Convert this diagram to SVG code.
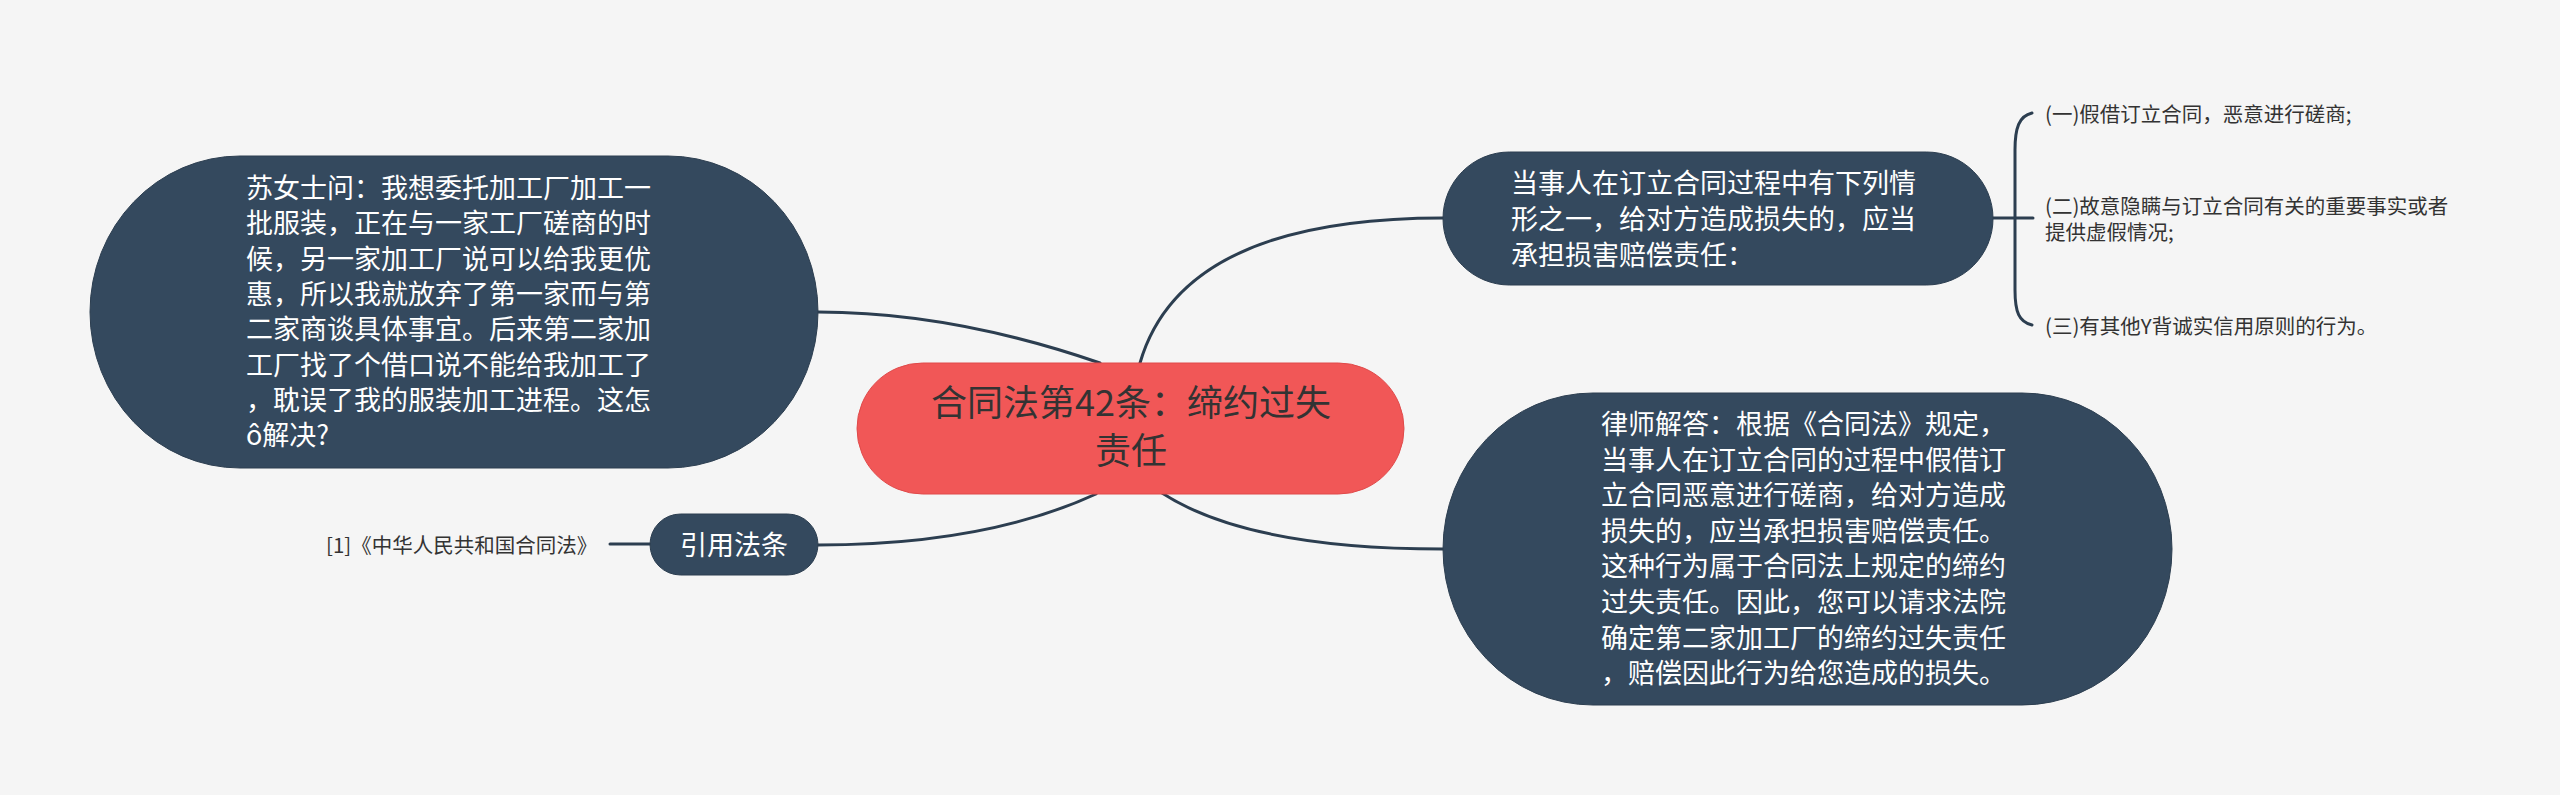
<svg xmlns="http://www.w3.org/2000/svg" width="2560" height="795" viewBox="0 0 2560 795">
<style>
.bg{fill:#f5f5f5}
.dark{fill:#34495e;stroke:#2c3e50;stroke-width:1}
.root{fill:#f15757;stroke:#e04a4a;stroke-width:1}
.conn{fill:none;stroke:#2c3e50;stroke-width:3;stroke-linecap:round}
.t{font-family:"Noto Sans CJK SC","Noto Sans",sans-serif}
.w{fill:#ffffff;font-size:27px}
.rt{fill:#333333;font-size:36px;text-anchor:middle}
.s{fill:#333333;font-size:20.5px}
</style>
<rect class="bg" x="0" y="0" width="2560" height="795"/>
<g id="connectors">
<path class="conn" d="M818,312 Q952,312 1100,363"/>
<path class="conn" d="M818,545 Q985,545 1096,494"/>
<path class="conn" d="M1443,218 Q1182,218 1140,363"/>
<path class="conn" d="M1443,549 Q1248,549 1162,493"/>
<path class="conn" d="M610,544 L650,544"/>
<path class="conn" d="M1993,218 L2033,218"/>
<path class="conn" d="M2032,113 C2019,116 2015,128 2015,150 L2015,290 C2015,312 2019,322 2032,325"/>
</g>
<g id="root">
<rect class="root" x="857" y="363" width="547" height="131" rx="65.5" ry="65.5"/>
<text class="t rt" x="1131" y="416">合同法第42条：缔约过失</text>
<text class="t rt" x="1131" y="464">责任</text>
</g>
<g id="question">
<rect class="dark" x="90" y="156" width="728" height="312" rx="150" ry="156"/>
<text class="t w" x="246" y="198">苏女士问：我想委托加工厂加工一</text>
<text class="t w" x="246" y="233.3">批服装，正在与一家工厂磋商的时</text>
<text class="t w" x="246" y="268.6">候，另一家加工厂说可以给我更优</text>
<text class="t w" x="246" y="303.9">惠，所以我就放弃了第一家而与第</text>
<text class="t w" x="246" y="339.2">二家商谈具体事宜。后来第二家加</text>
<text class="t w" x="246" y="374.5">工厂找了个借口说不能给我加工了</text>
<text class="t w" x="246" y="409.8">，耽误了我的服装加工进程。这怎</text>
<text class="t w" x="246" y="445.1">ô解决?</text>
</g>
<g id="cite">
<rect class="dark" x="650" y="514" width="168" height="61" rx="30.5" ry="30.5"/>
<text class="t w" x="734" y="555" text-anchor="middle">引用法条</text>
</g>
<g id="cite-ref">
<text class="t s" x="326" y="553">[1]《中华人民共和国合同法》</text>
</g>
<g id="rule">
<rect class="dark" x="1443" y="152" width="550" height="133" rx="66.5" ry="66.5"/>
<text class="t w" x="1511" y="193">当事人在订立合同过程中有下列情</text>
<text class="t w" x="1511" y="229">形之一，给对方造成损失的，应当</text>
<text class="t w" x="1511" y="265">承担损害赔偿责任：</text>
</g>
<g id="item1">
<text class="t s" x="2045" y="122">(一)假借订立合同，恶意进行磋商;</text>
</g>
<g id="item2">
<text class="t s" x="2045" y="214">(二)故意隐瞒与订立合同有关的重要事实或者</text>
<text class="t s" x="2045" y="240">提供虚假情况;</text>
</g>
<g id="item3">
<text class="t s" x="2045" y="334">(三)有其他Y背诚实信用原则的行为。</text>
</g>
<g id="answer">
<rect class="dark" x="1443" y="393" width="729" height="312" rx="150" ry="156"/>
<text class="t w" x="1601" y="434">律师解答：根据《合同法》规定，</text>
<text class="t w" x="1601" y="469.6">当事人在订立合同的过程中假借订</text>
<text class="t w" x="1601" y="505.2">立合同恶意进行磋商，给对方造成</text>
<text class="t w" x="1601" y="540.8">损失的，应当承担损害赔偿责任。</text>
<text class="t w" x="1601" y="576.4">这种行为属于合同法上规定的缔约</text>
<text class="t w" x="1601" y="612">过失责任。因此，您可以请求法院</text>
<text class="t w" x="1601" y="647.6">确定第二家加工厂的缔约过失责任</text>
<text class="t w" x="1601" y="683.2">，赔偿因此行为给您造成的损失。</text>
</g>
</svg>
